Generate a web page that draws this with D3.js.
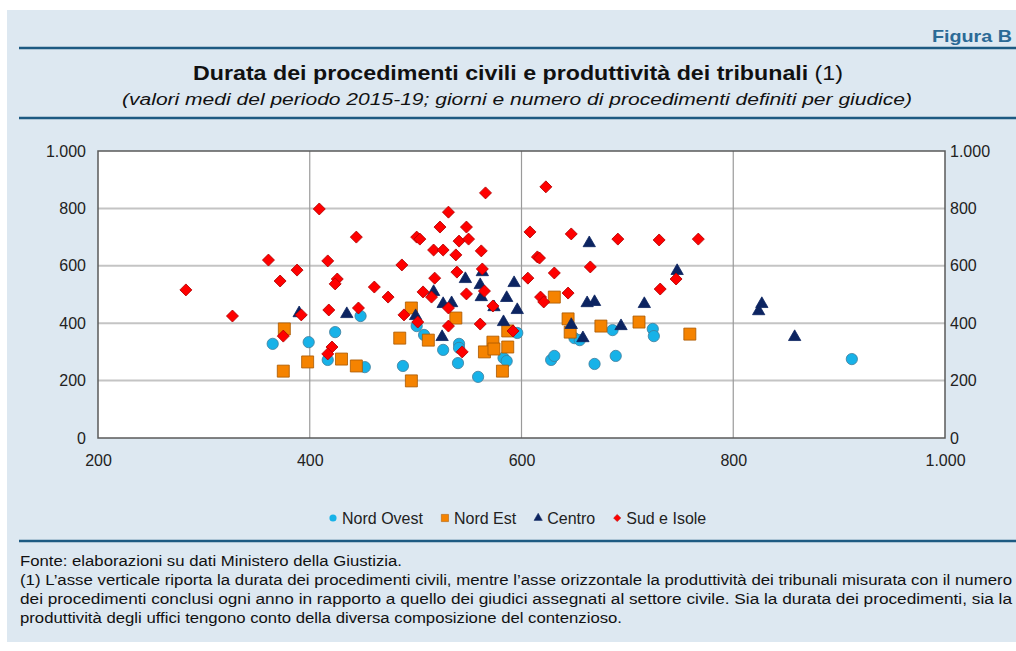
<!DOCTYPE html>
<html>
<head>
<meta charset="utf-8">
<script src="https://cdn.jsdelivr.net/npm/d3@7"></script>
<style>
    body { margin: 0; background: #fff; }
    text { font-family: "Liberation Sans", Arial, sans-serif; }
</style>
</head>
<body>
<div id="chart"></div>
<script>
// valori: [produttività, durata]
const nordOvest = [[365,328],[399,334],[424,369],[417,272],[448,425],[452,247],[488,251],[501,390],[508,359],[526,307],
    [541,328],[541,314],[540,261],[559,213],[583,279],[586,268],[596,366],[628,272],[631,286],[650,348],
    [655,341],[669,258],[686,376],[689,286],[724,380],[725,355],[912,275]];

const nordEst = [[376,380],[375,233],[398,265],[430,275],[444,251],[485,348],[496,199],[496,453],[538,418],[512,341],
    [573,334],[565,300],[574,310],[587,317],[587,373],[582,233],[631,491],[644,415],[646,369],[675,390],
    [711,404],[759,362]];

const centro = [[390,435],[435,432],[500,425],[517,509],[526,467],[534,470],[525,352],[547,554],[561,533],[563,578],
    [562,491],[574,456],[586,488],[593,540],[596,446],[583,404],[647,394],[658,348],[664,679],[662,470],
    [669,474],[694,390],[716,467],[747,582],[824,442],[827,467],[858,352]];

const sudIsole = [[283,516],[327,425],[361,620],[372,547],[388,585],[392,429],[375,355],[409,798],[417,617],[426,554],
    [424,537],[418,446],[421,317],[417,293],[444,700],[446,453],[461,526],[474,491],[487,603],[501,700],
    [504,693],[489,429],[502,404],[566,854],[531,787],[523,735],[548,735],[541,686],[550,693],[517,655],
    [526,655],[538,638],[562,652],[539,578],[563,589],[518,557],[507,509],[515,491],[548,502],[565,512],
    [531,453],[573,460],[531,390],[561,397],[592,373],[544,300],[623,875],[608,718],[647,711],[691,693],
    [615,631],[617,627],[665,596],[631,575],[606,557],[618,491],[621,474],[644,505],[730,690],[767,693],
    [746,554],[731,519]];

const xTicks = [200, 400, 600, 800, 1000];
const yTicks = [0, 200, 400, 600, 800, 1000];

const titolo = "Durata dei procedimenti civili e produttività dei tribunali";
const sottotitolo = "(valori medi del periodo 2015-19; giorni e numero di procedimenti definiti per giudice)";
const note = [
    "Fonte: elaborazioni su dati Ministero della Giustizia.",
    "(1) L’asse verticale riporta la durata dei procedimenti civili, mentre l’asse orizzontale la produttività dei tribunali misurata con il numero",
    "dei procedimenti conclusi ogni anno in rapporto a quello dei giudici assegnati al settore civile. Sia la durata dei procedimenti, sia la",
    "produttività degli uffici tengono conto della diversa composizione del contenzioso."
];

const series = [
    { name: "Nord Ovest", data: nordOvest, type: d3.symbolCircle, size: 100, fill: "#17b2e8", stroke: "#3f7d9c", rot: 0, lsize: 40 },
    { name: "Nord Est", data: nordEst, type: d3.symbolSquare, size: 144, fill: "#f58300", stroke: "#a85800", rot: 0, lsize: 52 },
    { name: "Centro", data: centro, type: d3.symbolTriangle, size: 66, fill: "#0c2461", stroke: "#0c2461", rot: 0, lsize: 30 },
    { name: "Sud e Isole", data: sudIsole, type: d3.symbolSquare, size: 72, fill: "#ff0000", stroke: "#b00000", rot: 45, lsize: 26 }
];

const width = 1016, height = 651;
const blu = "#1d5a82";

const svg = d3.select("#chart").append("svg")
    .attr("width", width)
    .attr("height", height);

// pannello
svg.append("rect")
    .attr("x", 7).attr("y", 10)
    .attr("width", width - 7).attr("height", 632)
    .attr("fill", "#dde8f1");

[48, 118, 541].forEach(y => {
    svg.append("line")
        .attr("x1", 19).attr("x2", width)
        .attr("y1", y).attr("y2", y)
        .attr("stroke", blu).attr("stroke-width", 2.5);
});

svg.append("text")
    .attr("x", 1012).attr("y", 42)
    .attr("text-anchor", "end")
    .attr("fill", "#2b6a96")
    .style("font-size", "17px").style("font-weight", "700")
    .attr("textLength", 80).attr("lengthAdjust", "spacingAndGlyphs")
    .text("Figura B");

const t = svg.append("text")
    .attr("x", 193).attr("y", 80)
    .attr("fill", "#111")
    .style("font-size", "21px")
    .attr("textLength", 650).attr("lengthAdjust", "spacingAndGlyphs");
t.append("tspan").style("font-weight", "700").text(titolo);
t.append("tspan").text(" (1)");

svg.append("text")
    .attr("x", 122).attr("y", 105)
    .attr("fill", "#111")
    .style("font-size", "16px").style("font-style", "italic")
    .attr("textLength", 790).attr("lengthAdjust", "spacingAndGlyphs")
    .text(sottotitolo);

// area del grafico
const x = d3.scaleLinear().domain([200, 1000]).range([98, 945]);
const y = d3.scaleLinear().domain([0, 1000]).range([438, 151]);

const it = d3.formatLocale({ decimal: ",", thousands: ".", grouping: [3], currency: ["€", ""] });
const fmt = it.format(",");

svg.append("rect")
    .attr("x", x(200)).attr("y", y(1000))
    .attr("width", x(1000) - x(200)).attr("height", y(0) - y(1000))
    .attr("fill", "#fff");

svg.append("g").selectAll("line")
    .data(yTicks.filter(d => d > 0 && d < 1000))
    .join("line")
    .attr("x1", x(200)).attr("x2", x(1000))
    .attr("y1", d => y(d)).attr("y2", d => y(d))
    .attr("stroke", "#c4c4c4").attr("stroke-width", 2);

svg.append("g").selectAll("line")
    .data(xTicks.filter(d => d > 200 && d < 1000))
    .join("line")
    .attr("x1", d => x(d)).attr("x2", d => x(d))
    .attr("y1", y(0)).attr("y2", y(1000))
    .attr("stroke", "#9a9a9a").attr("stroke-width", 1.2);

svg.append("rect")
    .attr("x", x(200)).attr("y", y(1000))
    .attr("width", x(1000) - x(200)).attr("height", y(0) - y(1000))
    .attr("fill", "none")
    .attr("stroke", "#5a5a5a").attr("stroke-width", 1.5);

const styleAxis = g => {
    g.select(".domain").remove();
    g.selectAll("text")
        .attr("fill", "#222")
        .style("font-size", "16px")
        .style("font-family", "'Liberation Sans', Arial, sans-serif");
};

svg.append("g")
    .attr("transform", `translate(${x(200)},0)`)
    .call(d3.axisLeft(y).tickValues(yTicks).tickSize(0).tickPadding(12).tickFormat(fmt))
    .call(styleAxis);

svg.append("g")
    .attr("transform", `translate(${x(1000)},0)`)
    .call(d3.axisRight(y).tickValues(yTicks).tickSize(0).tickPadding(5).tickFormat(fmt))
    .call(styleAxis);

svg.append("g")
    .attr("transform", `translate(0,${y(0)})`)
    .call(d3.axisBottom(x).tickValues(xTicks).tickSize(0).tickPadding(17).tickFormat(fmt))
    .call(styleAxis);

// punti
series.forEach(s => {
    svg.append("g").selectAll("path")
        .data(s.data)
        .join("path")
        .attr("d", d3.symbol().type(s.type).size(s.size))
        .attr("transform", d => `translate(${x(d[0])},${y(d[1])}) rotate(${s.rot})`)
        .attr("fill", s.fill)
        .attr("stroke", s.stroke)
        .attr("stroke-width", 0.8);
});

// legenda
let lx = 333;
const legend = svg.append("g");
series.forEach(s => {
    legend.append("path")
        .attr("d", d3.symbol().type(s.type).size(s.lsize))
        .attr("transform", `translate(${lx},${518}) rotate(${s.rot})`)
        .attr("fill", s.fill)
        .attr("stroke", s.type === d3.symbolCircle ? "none" : s.stroke)
        .attr("stroke-width", 0.5);
    const txt = legend.append("text")
        .attr("x", lx + 9).attr("y", 524)
        .attr("fill", "#222")
        .style("font-size", "16px")
        .text(s.name);
    lx = lx + 9 + txt.node().getComputedTextLength() + 22;
});

// note
const noteY = [566, 585, 604, 623];
const noteLen = [382, 992, 992, 602];
note.forEach((n, i) => {
    svg.append("text")
        .attr("x", 20).attr("y", noteY[i])
        .attr("fill", "#111")
        .style("font-size", "14px")
        .attr("textLength", noteLen[i]).attr("lengthAdjust", "spacingAndGlyphs")
        .text(n);
});
</script>
</body>
</html>
